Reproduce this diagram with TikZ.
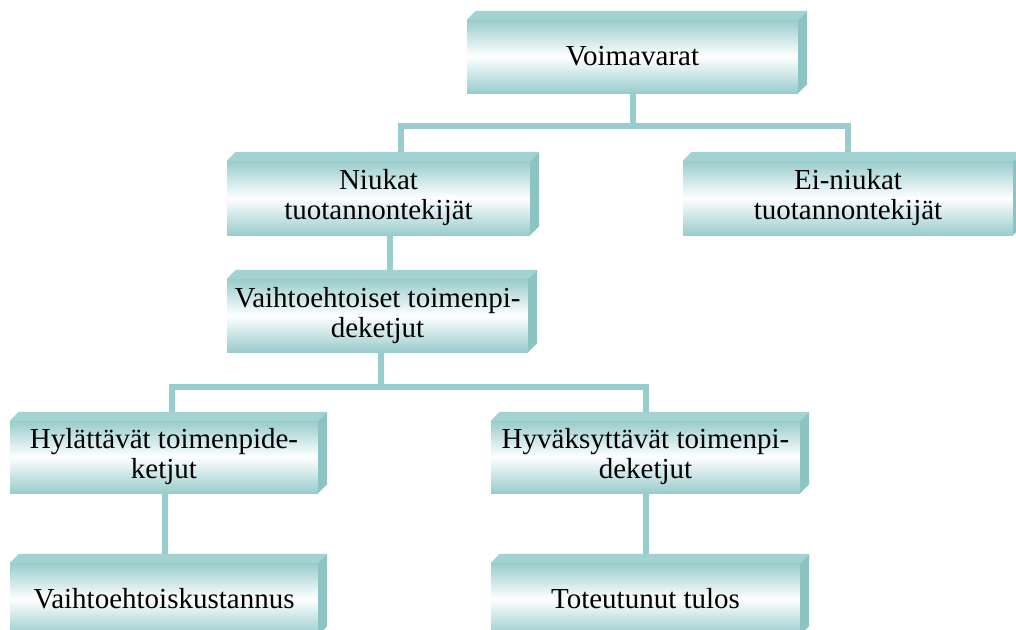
\documentclass[tikz,border=0pt]{standalone}
\usepackage{fontspec}
\setmainfont{Liberation Serif}
\usetikzlibrary{calc}
\definecolor{turkoosi}{RGB}{153,204,204}
\definecolor{kansi}{RGB}{163,210,210}
\definecolor{kylki}{RGB}{140,196,196}

\begin{document}
\begin{tikzpicture}[
        x=1pt, y=-1pt,
        laatikko/.style={
          draw=none, inner sep=0pt, align=center,
          top color=turkoosi, bottom color=turkoosi, middle color=white,
          font=\fontsize{29}{30}\selectfont},
        liitos/.style={draw=turkoosi, line width=6pt}]
        % rajaus
        \useasboundingbox (0,0) rectangle (1016,629);
        \clip (0,0) rectangle (1016,629);
        % laatikot
        \node[laatikko, minimum width=331pt, minimum height=73pt] (voim) at (632.5,56.5) {Voimavarat};
        \node[laatikko, minimum width=303pt, minimum height=74pt] (niukat) at (378.5,198) {Niukat\\tuotannontekijät};
        \node[laatikko, minimum width=330pt, minimum height=74pt] (einiukat) at (848,198) {Ei-niukat\\tuotannontekijät};
        \node[laatikko, minimum width=301pt, minimum height=73pt] (vaiht) at (377.5,315.5) {Vaihtoehtoiset toimenpi-\\deketjut};
        \node[laatikko, minimum width=308pt, minimum height=72pt] (hyl) at (164,457) {Hylättävät toimenpide-\\ketjut};
        \node[laatikko, minimum width=309pt, minimum height=72pt] (hyv) at (645.5,457) {Hyväksyttävät toimenpi-\\deketjut};
        \node[laatikko, minimum width=308pt, minimum height=72pt] (kust) at (164,599) {Vaihtoehtoiskustannus};
        \node[laatikko, minimum width=309pt, minimum height=72pt] (tot) at (645.5,599) {Toteutunut tulos};
        % yhdysviivat
        \draw[liitos] (voim.south) -- ++(0,33) coordinate (ylahaara);
        \draw[liitos] ([xshift=22.5pt]niukat.north) |- (ylahaara) -| (einiukat.north);
        \draw[liitos] ([xshift=11.5pt]niukat.south) -- ([xshift=12.5pt]vaiht.north);
        \draw[liitos] ([xshift=3.5pt]vaiht.south) -- ++(0,35) coordinate (alahaara);
        \draw[liitos] ([xshift=8pt]hyl.north) |- (alahaara) -| (hyv.north);
        \draw[liitos] ([xshift=1pt]hyl.south) -- ([xshift=1pt]kust.north);
        \draw[liitos] (hyv.south) -- (tot.north);
        % kannet ja kyljet
        \foreach \n in {voim,niukat,einiukat,vaiht,hyl,hyv,kust,tot}{
          \fill[kansi] (\n.north west) -- ++(9,-9) -- ($(\n.north east)+(9,-9)$) -- (\n.north east) -- cycle;
          \fill[kylki] (\n.north east) -- ++(9,-9) -- ($(\n.south east)+(9,-9)$) -- (\n.south east) -- cycle;
        }
\end{tikzpicture}
\end{document}
